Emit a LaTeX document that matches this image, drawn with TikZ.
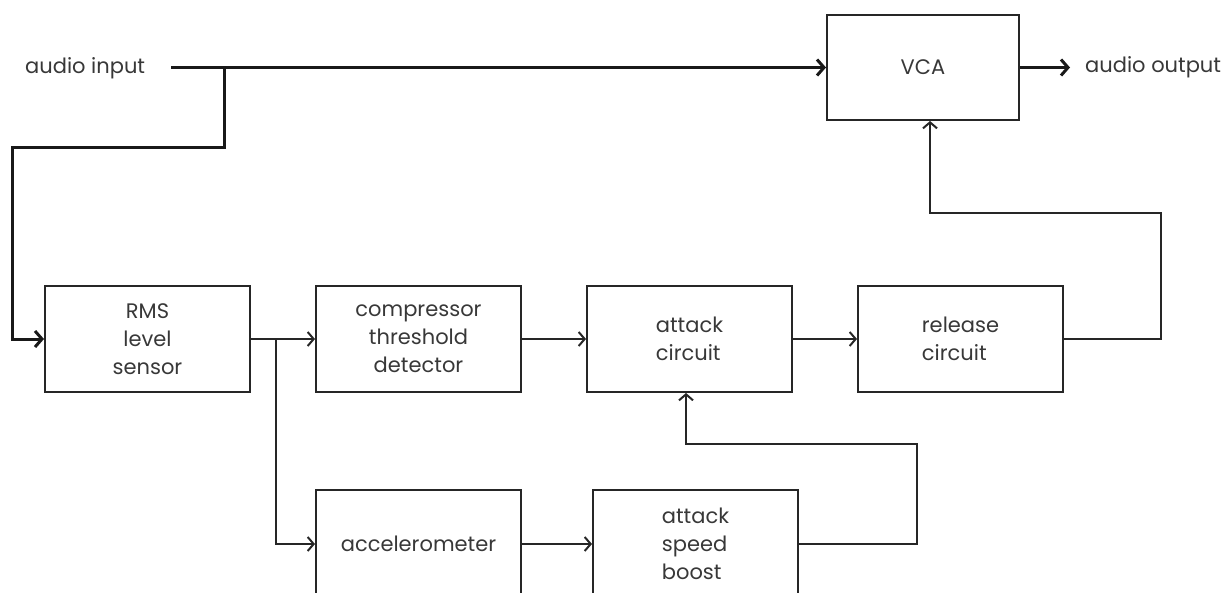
\documentclass[tikz,border=0pt]{standalone}
\usepackage{fontspec}
\setmainfont{Poppins}
\usetikzlibrary{arrows.meta}
\begin{document}
\begin{tikzpicture}[x=1pt,y=-1pt,
  txt/.style={font=\fontsize{21}{28}\selectfont, text=black!78},
  blk/.style={txt, draw=black!85, line width=2pt, minimum width=205pt, minimum height=106pt, inner sep=0pt},
  lbl/.style={txt, inner sep=0pt},
  conn/.style={line width=2pt, draw=black!85, -{Straight Barb[length=6pt,width=14pt,line width=2pt]}},
  thk/.style={line width=3pt, draw=black!90, -{Straight Barb[length=7pt,width=16pt,line width=3pt]}}
]
\useasboundingbox (0,0) rectangle (1228,592);
\clip (0,0) rectangle (1228,592);

% blocks
\node[blk, minimum width=192pt, minimum height=105pt] (vca) at (923,67.5) {VCA};
\node[blk, align=center] (rms) at (147.5,339) {RMS\\level\\sensor};
\node[blk, align=center] (comp) at (418.5,339) {compressor\\threshold\\detector};
\node[blk, align=left] (att) at (689.5,339) {attack\\circuit};
\node[blk, align=left] (rel) at (960.5,339) {release\\circuit};
\node[blk, minimum height=108pt] (acc) at (418.5,544) {accelerometer};
\node[blk, minimum height=108pt, align=left] (boost) at (695.5,544) {attack\\speed\\boost};

% labels
\node[lbl, anchor=west] (ain) at (25,68) {audio input};
\node[lbl, anchor=west] (aout) at (1085,67.5) {audio output};

% coordinates
\coordinate (inS) at (171,67.5);
\coordinate (br) at (224,67.5);
\coordinate (c1) at (12,147);
\coordinate (outE) at (1070,67.5);
\coordinate (rb) at (276,339);
\coordinate (r1) at (1161,213);
\coordinate (r2) at (930,213);
\coordinate (b1) at (917,444);
\coordinate (b2) at (686,444);

% audio path
\draw[thk] (inS) -- (vca.west);
\draw[thk] (br) |- (c1) |- (rms.west);
\draw[thk] (vca.east) -- (outE);

% control path
\draw[conn] (rms.east) -- (comp.west);
\draw[conn] (rb) |- (acc.west);
\draw[conn] (comp.east) -- (att.west);
\draw[conn] (att.east) -- (rel.west);
\draw[conn] (acc.east) -- (boost.west);
\draw[conn] (rel.east) -| (r1) -- (r2) -- (r2|-vca.south);
\draw[conn] (boost.east) -| (b1) -- (b2) -- (b2|-att.south);
\end{tikzpicture}
\end{document}
